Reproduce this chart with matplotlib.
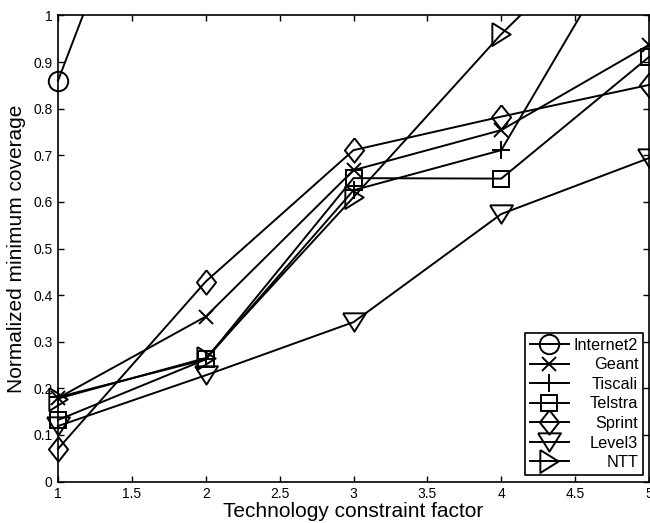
import matplotlib
matplotlib.use("Agg")
import matplotlib.pyplot as plt
import matplotlib.patches as mpatches
import numpy as np

plt.rcParams["font.family"] = ["Liberation Sans", "DejaVu Sans"]

factor = [1, 2, 3, 4, 5]
internet2 = [0.86, 1.69, 2.20, 2.60, 3.00]
geant = [0.179, 0.354, 0.668, 0.754, 0.937]
tiscali = [0.181, 0.262, 0.625, 0.711, 1.25]
telstra = [0.132, 0.262, 0.651, 0.650, 0.911]
sprint = [0.070, 0.429, 0.711, 0.783, 0.851]
level3 = [0.119, 0.228, 0.342, 0.574, 0.694]
ntt = [0.178, 0.265, 0.610, 0.960, 1.27]

names = ["Internet2", "Geant", "Tiscali", "Telstra", "Sprint", "Level3", "NTT"]
series = [internet2, geant, tiscali, telstra, sprint, level3, ntt]

# open matlab-style markers (custom paths are scaled so max extent == markersize)
tri_down = [(-1, 0.8), (1, 0.8), (0, -0.8), (-1, 0.8)]
tri_right = [(-0.8, 1), (-0.8, -1), (0.8, 0), (-0.8, 1)]
diamond = [(0, 1), (0.79, 0), (0, -1), (-0.79, 0), (0, 1)]
markers = [("o", 14), ("x", 9.5), ("+", 12.5), ("s", 11), (diamond, 17.5),
           (tri_down, 16.5), (tri_right, 16.5)]

fig = plt.figure(figsize=(6.5, 5.23), dpi=100)
ax = fig.add_axes([0.0892, 0.0793, 0.9093, 0.8911])

# clip to the axes vertically but let edge markers spill sideways
clip = mpatches.Rectangle((-0.1, 0), 1.2, 1, transform=ax.transAxes,
                          fill=False, visible=False)
ax.add_patch(clip)

for name, vals, (m, ms) in zip(names, series, markers):
    line, = ax.plot(factor, vals, color="black", lw=1.4, marker=m, ms=ms,
                    mfc="none", mec="black", mew=1.4, label=name)
    line.set_clip_path(clip)

ax.set_xlim(1, 5)
ax.set_ylim(0, 1)
ax.set_xticks(np.arange(1, 5.01, 0.5))
ax.set_xticklabels(["1", "1.5", "2", "2.5", "3", "3.5", "4", "4.5", "5"])
ax.set_yticks(np.arange(0, 1.01, 0.1))
ax.set_yticklabels(["0", "0.1", "0.2", "0.3", "0.4", "0.5", "0.6", "0.7",
                    "0.8", "0.9", "1"])
ax.tick_params(direction="in", top=True, right=True, length=4, width=1,
               labelsize=10, pad=4)
for s in ax.spines.values():
    s.set_linewidth(1.2)

ax.set_xlabel("Technology constraint factor", fontsize=15)
ax.set_ylabel("Normalized minimum coverage", fontsize=15)
ax.xaxis.set_label_coords(0.5, -0.045)
ax.yaxis.set_label_coords(-0.054, 0.5)

leg = ax.legend(loc="lower right", bbox_to_anchor=(0.99, 0.014), fontsize=11.7,
                frameon=True, fancybox=False, framealpha=1, edgecolor="black",
                handlelength=2.4, handletextpad=0.3, labelspacing=0.28,
                borderpad=0.3, borderaxespad=0)
leg.get_frame().set_linewidth(1.2)

# right-align legend labels
fig.canvas.draw()
texts = leg.get_texts()
widths = [t.get_window_extent().width for t in texts]
wmax = max(widths)
for t, w in zip(texts, widths):
    t.set_x(wmax - w)

fig.savefig("out.png", dpi=100)
